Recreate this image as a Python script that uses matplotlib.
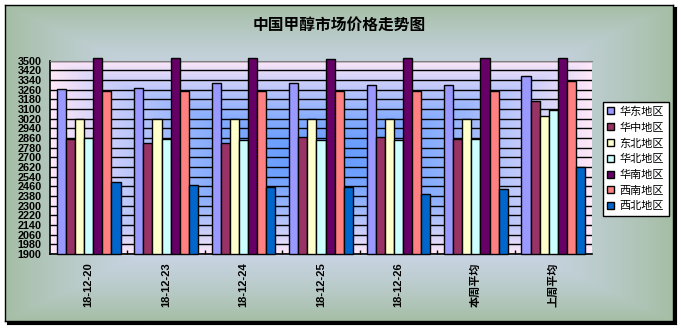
import matplotlib
matplotlib.use("Agg")
import matplotlib.pyplot as plt
import numpy as np

# 数据
categories = ["18-12-20", "18-12-23", "18-12-24", "18-12-25", "18-12-26", "本周平均", "上周平均"]
regions = ["华东地区", "华中地区", "东北地区", "华北地区", "华南地区", "西南地区", "西北地区"]
huadong = [3265, 3275, 3316, 3316, 3300, 3300, 3374]
huazhong = [2850, 2821, 2821, 2871, 2871, 2850, 3170]
dongbei = [3020, 3020, 3020, 3020, 3020, 3020, 3044]
huabei = [2860, 2850, 2846, 2840, 2846, 2850, 3090]
huanan = [3520, 3520, 3520, 3510, 3520, 3520, 3520]
xinan = [3250, 3250, 3250, 3250, 3250, 3250, 3329]
xibei = [2495, 2475, 2453, 2455, 2400, 2441, 2623]
yticks = list(range(1900, 3501, 80))

series = [huadong, huazhong, dongbei, huabei, huanan, xinan, xibei]
colors = ["#9999FF", "#993366", "#FFFFCC", "#CCFFFF", "#660066", "#FF8080", "#0066CC"]

W, H = 681, 328
fig = plt.figure(figsize=(W / 100, H / 100), dpi=100, facecolor="white")


def px(x0, y0, x1, y1):
    # 像素坐标(左上原点) -> figure 坐标
    return [x0 / W, 1 - y1 / H, (x1 - x0) / W, (y1 - y0) / H]


def rect_gradient(nx, ny, c_center, c_edge, power=1.0):
    x = np.linspace(-1, 1, nx)
    y = np.linspace(-1, 1, ny)
    X, Y = np.meshgrid(x, y)
    t = np.maximum(np.abs(X), np.abs(Y)) ** power
    c0 = np.array(c_center, float) / 255
    c1 = np.array(c_edge, float) / 255
    return c0 * (1 - t)[..., None] + c1 * t[..., None]


# 图表区背景
shadow = fig.add_axes(px(7, 7, 676, 324))
shadow.set_facecolor("black")
shadow.set_xticks([])
shadow.set_yticks([])
bg = fig.add_axes(px(5, 5, 673, 321))
bg.imshow(rect_gradient(300, 150, (216, 222, 255), (165, 190, 165), 2.2),
          aspect="auto", extent=[0, 1, 0, 1], interpolation="bilinear")
bg.set_xticks([])
bg.set_yticks([])
for s in bg.spines.values():
    s.set_color("black")
    s.set_linewidth(1)

# 绘图区
ax = fig.add_axes(px(50, 60.7, 592, 254))
ax.imshow(rect_gradient(300, 150, (100, 155, 255), (255, 232, 248), 1.6),
          aspect="auto", extent=[0, 1, 0, 1], transform=ax.transAxes,
          interpolation="bilinear", zorder=0)

n = len(regions)
bw = 1 / (n + 1.5)
x = np.arange(len(categories))
handles = []
for k, (vals, c, name) in enumerate(zip(series, colors, regions)):
    b = ax.bar(x + (k - (n - 1) / 2) * bw, np.array(vals) - 1900, bw, bottom=1900,
               color=c, edgecolor="black", linewidth=1.0, zorder=3,
               clip_on=False, label=name)
    handles.append(b)

ax.set_xlim(-0.5, len(categories) - 0.5)
ax.set_ylim(1900, 3500)
ax.set_yticks(yticks)
ax.yaxis.grid(True, color="black", linewidth=1.0)
ax.set_axisbelow(True)
ax.set_facecolor("none")

tick_font = ["Liberation Sans", "Noto Sans CJK SC"]
ax.set_yticklabels([str(v) for v in yticks], family=tick_font,
                   fontweight="bold", fontsize=7.8)
ax.set_xticks(x)
ax.set_xticklabels(categories, rotation=90, family=tick_font,
                   fontweight="bold", fontsize=8, va="top")
ax.set_xticks(np.arange(0.5, len(categories) - 0.5), minor=True)
ax.tick_params(axis="y", length=0, pad=6)
ax.tick_params(axis="x", which="major", length=0, pad=6)
ax.tick_params(axis="x", which="minor", direction="in", length=3,
               width=1, color="black")

ax.spines["left"].set_color("black")
ax.spines["bottom"].set_color("black")
ax.spines["left"].set_linewidth(1.2)
ax.spines["bottom"].set_linewidth(1.2)
ax.spines["right"].set_visible(False)
ax.spines["top"].set_color("#808080")

fig.text(338.9 / W, 1 - 24.3 / H, "中国甲醇市场价格走势图",
         family=["Noto Sans CJK SC", "DejaVu Sans"], fontweight="heavy",
         fontsize=11.3, ha="center", va="center")

leg = fig.legend(handles=handles, loc="upper left",
                 bbox_to_anchor=(603 / W, 1 - 102 / H),
                 bbox_transform=fig.transFigure,
                 prop={"family": ["Noto Sans CJK SC", "DejaVu Sans"], "size": 8},
                 handlelength=0.6, handleheight=0.6, handletextpad=0.5,
                 labelspacing=0.5, borderpad=0.4, borderaxespad=0,
                 fancybox=False, framealpha=1, edgecolor="black")
leg.get_frame().set_linewidth(1)
leg.set_zorder(10)

fig.savefig("out.png", dpi=100, facecolor="white")
